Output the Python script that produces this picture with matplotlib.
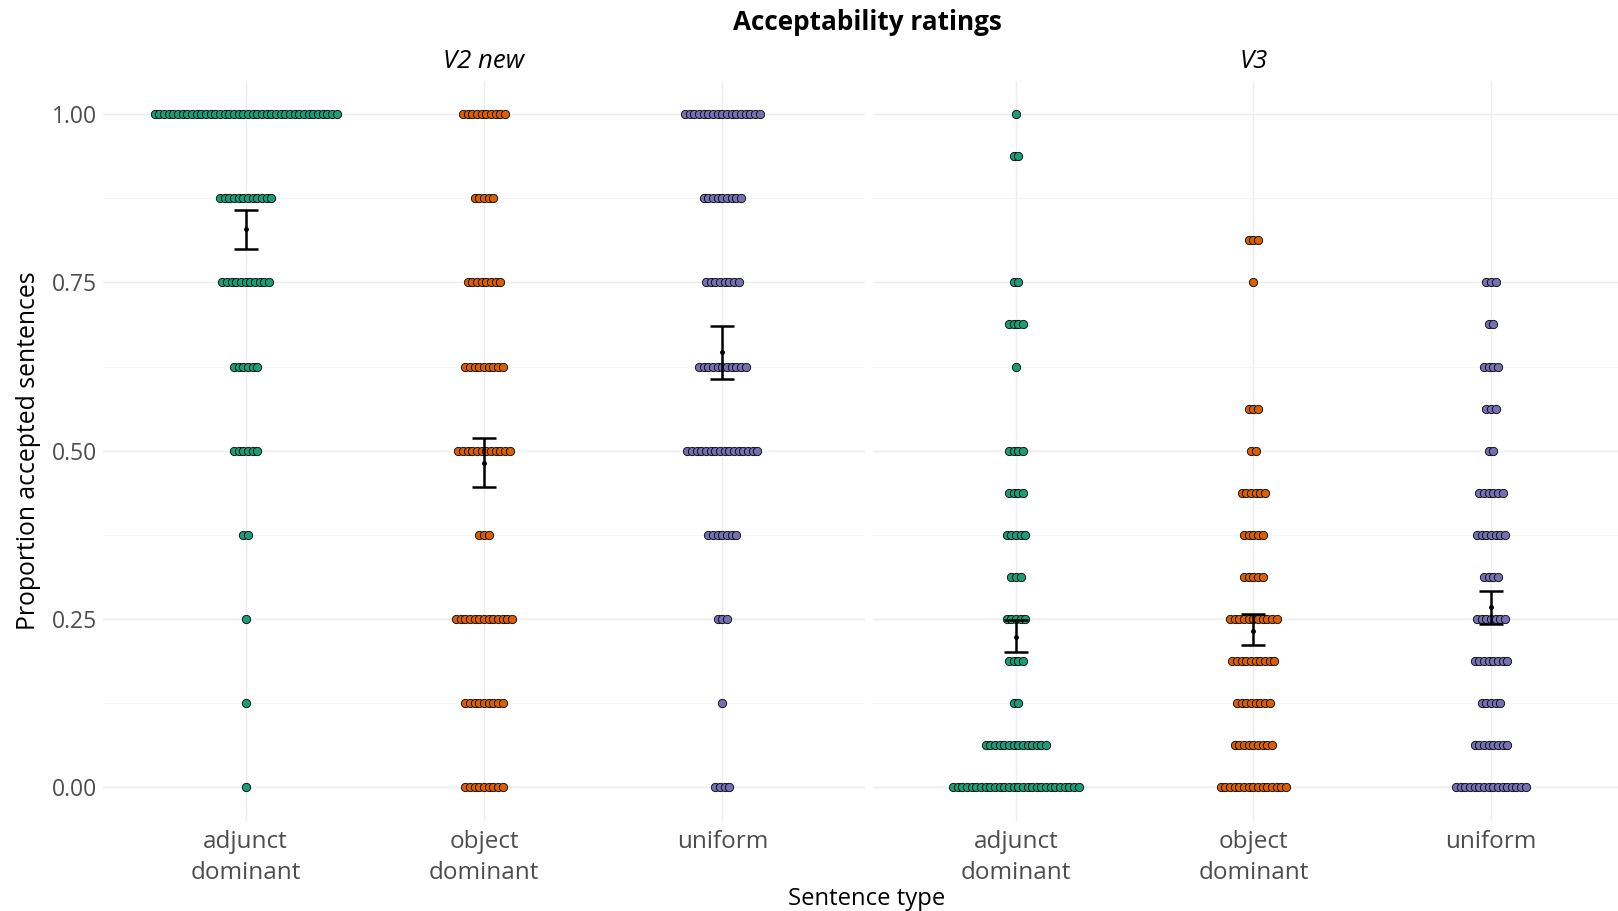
#!/usr/bin/python3
import numpy as np
import matplotlib
matplotlib.use('Agg')
import matplotlib.pyplot as plt

# sentence types shown on each panel
conditions = ['adjunct\ndominant', 'object\ndominant', 'uniform']
colours = ['#1B9E77', '#D95F02', '#7570B3']

# V2 new: proportion levels and number of participants at each level
v2_levels = [1.0, 0.875, 0.75, 0.625, 0.5, 0.375, 0.25, 0.125, 0.0]
v2_adjunct_counts = [40, 12, 11, 6, 6, 2, 1, 1, 1]
v2_object_counts = [10, 5, 8, 9, 12, 3, 13, 9, 9]
v2_uniform_counts = [17, 9, 8, 11, 16, 7, 3, 1, 4]

# V3: proportion levels (sixteenths) and counts
v3_levels = [1.0, 0.9375, 0.875, 0.8125, 0.75, 0.6875, 0.625, 0.5625, 0.5,
             0.4375, 0.375, 0.3125, 0.25, 0.1875, 0.125, 0.0625, 0.0]
v3_adjunct_counts = [1, 2, 0, 0, 2, 4, 1, 0, 4, 4, 5, 3, 5, 4, 2, 14, 28]
v3_object_counts = [0, 0, 0, 3, 1, 0, 0, 3, 2, 6, 5, 5, 11, 10, 8, 9, 15]
v3_uniform_counts = [0, 0, 0, 0, 3, 2, 4, 3, 2, 6, 7, 4, 7, 8, 5, 8, 16]

# means and intervals
v2_mean = [0.829, 0.481, 0.646]
v2_low = [0.800, 0.446, 0.607]
v2_high = [0.857, 0.518, 0.685]
v3_mean = [0.223, 0.232, 0.267]
v3_low = [0.200, 0.2105, 0.242]
v3_high = [0.248, 0.257, 0.292]

plt.rcParams['font.family'] = ['Open Sans', 'DejaVu Sans']

W, H = 1618, 911
fig = plt.figure(figsize=(W / 100, H / 100), dpi=100)
ax1 = fig.add_axes([102.6 / W, 90.4 / H, 762.8 / W, 740 / H])
ax2 = fig.add_axes([873.4 / W, 90.4 / H, 760 / W, 740 / H])

# horizontal distance between stacked dots, in category units
step = 4.67 / 238.4


def draw_dots(ax, x0, levels, counts, colour):
    for y, n in zip(levels, counts):
        if n == 0:
            continue
        xs = x0 + (np.arange(n) - (n - 1) / 2) * step
        ax.scatter(xs, np.full(n, y), s=36, c=colour, edgecolors='black',
                   linewidths=0.6, zorder=3)


panels = [
    (ax1, v2_levels, [v2_adjunct_counts, v2_object_counts, v2_uniform_counts],
     v2_mean, v2_low, v2_high, 'V2 new'),
    (ax2, v3_levels, [v3_adjunct_counts, v3_object_counts, v3_uniform_counts],
     v3_mean, v3_low, v3_high, 'V3'),
]

for ax, levels, counts, mean, low, high, label in panels:
    xpos = np.arange(1, len(conditions) + 1)
    for i in range(len(conditions)):
        draw_dots(ax, xpos[i], levels, counts[i], colours[i])
    mean = np.array(mean)
    yerr = [mean - np.array(low), np.array(high) - mean]
    ax.errorbar(xpos, mean, yerr=yerr, fmt='o', ms=2.5, color='black',
                ecolor='black', elinewidth=1.8, capsize=8.5, capthick=1.8,
                zorder=4)

    ax.set_xlim(0.4, 3.6)
    ax.set_ylim(-0.05, 1.05)
    ax.set_xticks(xpos)
    ax.set_xticklabels(conditions, linespacing=1.35)
    ax.set_yticks([0, 0.25, 0.5, 0.75, 1.0])
    ax.set_yticks([0.125, 0.375, 0.625, 0.875], minor=True)
    ax.set_yticklabels(['0.00', '0.25', '0.50', '0.75', '1.00'])
    ax.grid(which='major', color='#ededed', linewidth=1.0, zorder=0)
    ax.grid(which='minor', axis='y', color='#f5f5f5', linewidth=0.7, zorder=0)
    ax.set_axisbelow(True)
    ax.tick_params(which='both', length=0, labelcolor='#4d4d4d')
    ax.tick_params(axis='y', labelsize=16.5, pad=4)
    ax.tick_params(axis='x', labelsize=17.5, pad=7)
    for s in ax.spines.values():
        s.set_visible(False)
    ax.set_title(label, fontsize=18.5, style='italic', pad=9)

ax2.tick_params(axis='y', labelleft=False)

fig.text(29 / W, 0.5055, 'Proportion accepted sentences', rotation=90,
         ha='center', va='center', fontsize=17.8)
fig.text(867 / W, 1 - 899 / H, 'Sentence type', ha='center', va='center',
         fontsize=17.2)
fig.text(867 / W, 1 - 22 / H, 'Acceptability ratings', ha='center',
         va='center', fontsize=18.8, fontweight='bold')

plt.savefig('out.png', dpi=100)
print("Graph created.")
